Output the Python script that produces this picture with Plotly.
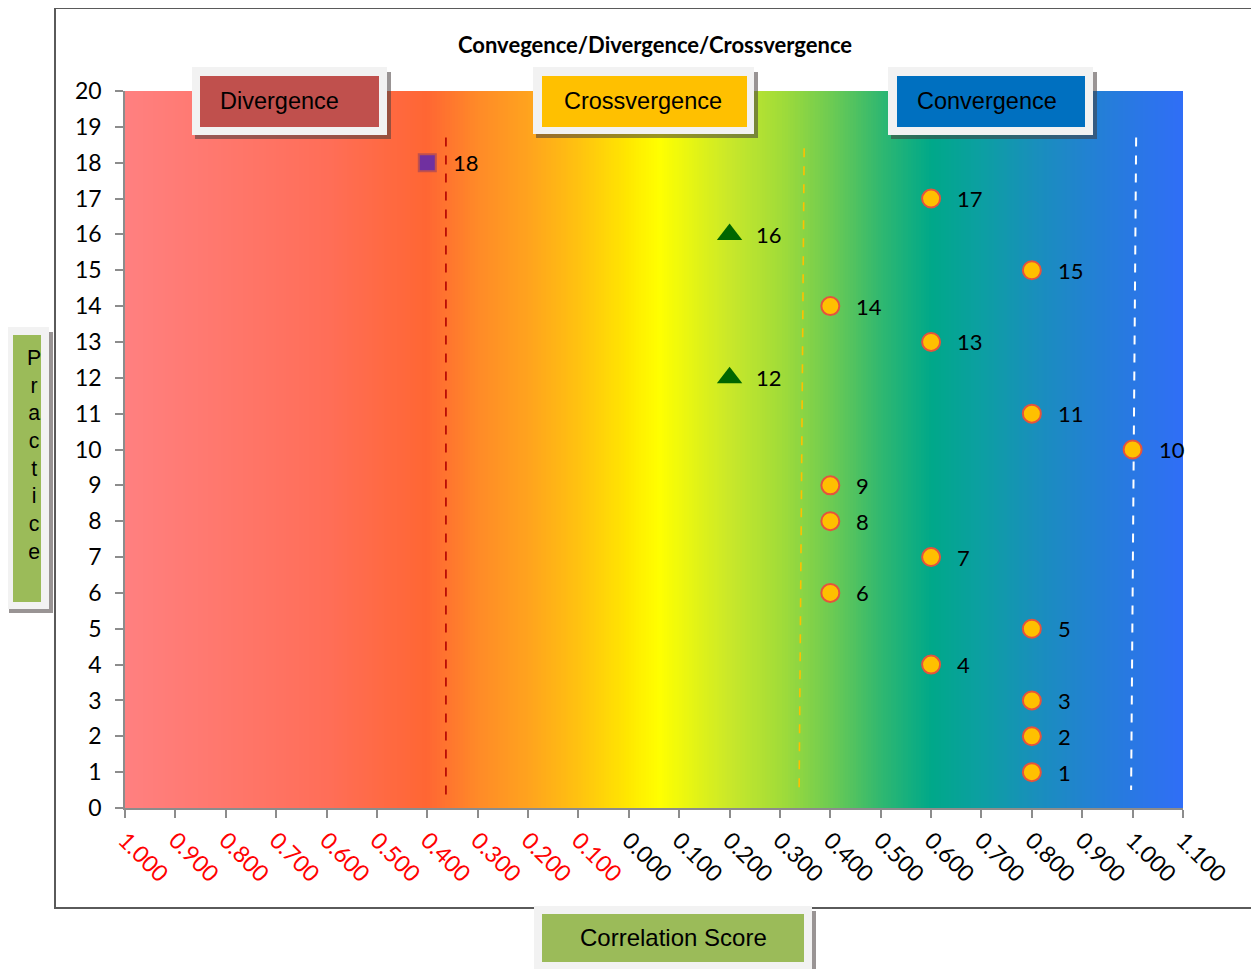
import numpy as np
import plotly.graph_objects as go

# ---------------- data ----------------
practice = [1, 2, 3, 4, 5, 6, 7, 8, 9, 10, 11, 12, 13, 14, 15, 16, 17, 18]
score = [0.8, 0.8, 0.8, 0.6, 0.8, 0.4, 0.6, 0.4, 0.4, 1.0, 0.8, 0.2, 0.6, 0.4, 0.8, 0.2, 0.6, -0.4]
group = ["conv", "conv", "conv", "conv", "conv", "conv", "conv", "conv", "conv", "conv",
         "conv", "cross", "conv", "conv", "conv", "cross", "conv", "div"]

x_tick_vals = [-1.0, -0.9, -0.8, -0.7, -0.6, -0.5, -0.4, -0.3, -0.2, -0.1, 0.0,
               0.1, 0.2, 0.3, 0.4, 0.5, 0.6, 0.7, 0.8, 0.9, 1.0, 1.1]
y_tick_vals = list(range(0, 21))

# reference (threshold) lines: x at top / bottom, y at top / bottom
div_line_x = [-0.363, -0.363]
div_line_y = [18.7, 0.35]
cross_line_x = [0.348, 0.338]
cross_line_y = [18.4, 0.42]
conv_line_x = [1.007, 0.997]
conv_line_y = [18.7, 0.5]

# background gradient stops (value on x axis, colour)
grad_stops = [(-1.0, "#FF8080"), (-0.6, "#FF6E58"), (-0.4, "#FF6633"), (-0.3, "#FF8A28"),
              (-0.2, "#FFA31E"), (-0.1, "#FFC210"), (0.0, "#FFE800"), (0.06, "#FFFF00"),
              (0.2, "#C9E82A"), (0.3, "#A2DC38"), (0.4, "#6ECB52"), (0.5, "#30B870"),
              (0.6, "#00A889"), (0.7, "#0C9FA2"), (0.8, "#1890BA"), (0.9, "#2183CF"),
              (1.0, "#2978E4"), (1.1, "#306EF6")]

XMIN, XMAX = -1.0, 1.1
OFF = 8  # page offset of the plot div (body margin)
W, H = 1259 - OFF, 969 - OFF
L, T = 125 - OFF, 91 - OFF
R = W - (1183 - OFF)
B = H - (808 - OFF)
PW, PH = W - L - R, H - T - B

fig = go.Figure()

# gradient background
edges = np.linspace(XMIN, XMAX, 421)
centers = (edges[:-1] + edges[1:]) / 2
cscale = [[(v - XMIN) / (XMAX - XMIN), c] for v, c in grad_stops]
fig.add_trace(go.Heatmap(x=edges, y=[0, 20], z=[centers], colorscale=cscale,
                         zmin=XMIN, zmax=XMAX, showscale=False, hoverinfo="skip"))

# threshold lines
fig.add_trace(go.Scatter(x=div_line_x, y=div_line_y, mode="lines",
                         line=dict(color="#B00000", width=1.6, dash="dash"), hoverinfo="skip"))
fig.add_trace(go.Scatter(x=cross_line_x, y=cross_line_y, mode="lines",
                         line=dict(color="#FFC000", width=1.6, dash="dash"), hoverinfo="skip"))
fig.add_trace(go.Scatter(x=conv_line_x, y=conv_line_y, mode="lines",
                         line=dict(color="white", width=2, dash="dash"), hoverinfo="skip"))

styles = {
    "conv": dict(symbol="circle", size=18, color="#FFC000", line=dict(color="#E5533D", width=2)),
    "cross": dict(symbol="triangle-up", size=22, color="#006600", line=dict(color="#006600", width=0)),
    "div": dict(symbol="square", size=17, color="#7030A0", line=dict(color="#C0504D", width=2)),
}
for g, st in styles.items():
    xs = [s for s, gg in zip(score, group) if gg == g]
    ys = [p for p, gg in zip(practice, group) if gg == g]
    fig.add_trace(go.Scatter(x=xs, y=ys, mode="markers", marker=st, cliponaxis=False))

num_font = dict(family="Lato, 'Open Sans', sans-serif", size=22, color="black")
tick_font = dict(family="Lato, 'Open Sans', sans-serif", size=23, color="black")
box_font = dict(family="Liberation Sans, Arial, sans-serif", size=23.5, color="black")

annotations = []
for p, s in zip(practice, score):
    annotations.append(dict(x=s, y=p, xref="x", yref="y", text=str(p), showarrow=False,
                            xanchor="left", yanchor="middle", xshift=24, font=num_font))


# helpers: page pixel -> paper coordinates
def px(x):
    return (x - OFF - L) / PW


def py(y):
    return (H - B - (y - OFF)) / PH


shapes = []
# outer chart border
shapes.append(dict(type="rect", xref="paper", yref="paper", x0=px(55), x1=px(1255),
                   y0=py(908), y1=py(8), line=dict(color="#5A5A5A", width=2),
                   fillcolor="rgba(0,0,0,0)", layer="above"))


def boxed_label(x0, x1, y0, y1, ix0, ix1, iy0, iy1, fill, text, font, xoff=0, yoff=0):
    shapes.append(dict(type="rect", xref="paper", yref="paper", x0=px(x0 + 3), x1=px(x1 + 4),
                       y0=py(y1 + 4), y1=py(y0 + 5), line=dict(width=0),
                       fillcolor="rgba(70,60,60,0.55)", layer="above"))
    shapes.append(dict(type="rect", xref="paper", yref="paper", x0=px(x0), x1=px(x1),
                       y0=py(y1), y1=py(y0), line=dict(width=0),
                       fillcolor="#F2F2F2", layer="above"))
    shapes.append(dict(type="rect", xref="paper", yref="paper", x0=px(ix0), x1=px(ix1),
                       y0=py(iy1), y1=py(iy0), line=dict(width=0),
                       fillcolor=fill, layer="above"))
    annotations.append(dict(x=px((ix0 + ix1) / 2 + xoff), y=py((iy0 + iy1) / 2 + yoff),
                            xref="paper", yref="paper", text=text, showarrow=False,
                            xanchor="center", yanchor="middle", font=font))


boxed_label(192, 387, 67, 135, 200, 379, 76, 127, "#C0504D", "Divergence", box_font, xoff=-10, yoff=-1)
boxed_label(533, 754, 67, 134, 542, 747, 76, 127, "#FFC000", "Crossvergence", box_font, xoff=-2, yoff=-1)
boxed_label(888, 1093, 67, 135, 897, 1085, 76, 127, "#0070C0", "Convergence", box_font, xoff=-4, yoff=-1)
boxed_label(6, 49, 327, 609, 13, 41, 335, 602, "#9BBB59",
            "<br>".join(list("Practice")), dict(box_font, size=21.3), xoff=7, yoff=-14)
boxed_label(534, 812, 906, 975, 542, 804, 914, 962, "#9BBB59", "Correlation Score",
            dict(box_font, size=24))

# title
annotations.append(dict(x=px(655), y=py(44), xref="paper", yref="paper",
                        text="<b>Convegence/Divergence/Crossvergence</b>", showarrow=False,
                        xanchor="center", yanchor="middle",
                        font=dict(family="Lato, 'Open Sans', sans-serif", size=22, color="black")))

x_tick_text = [("<span style='color:#FF0000'>%.3f</span>" % abs(v)) if v < -1e-9 else "%.3f" % v
               for v in x_tick_vals]

fig.update_layout(
    width=W, height=H, margin=dict(l=L, r=R, t=T, b=B),
    paper_bgcolor="white", plot_bgcolor="white", showlegend=False,
    shapes=shapes, annotations=annotations,
    xaxis=dict(range=[XMIN, XMAX], tickvals=x_tick_vals, ticktext=x_tick_text, tickangle=45,
               ticks="outside", ticklen=8, tickcolor="#8C8C8C", tickwidth=1.5,
               showline=True, linecolor="#8C8C8C", linewidth=1.5,
               showgrid=False, zeroline=False, tickfont=tick_font),
    yaxis=dict(range=[0, 20], tickvals=y_tick_vals, ticks="outside", ticklen=8,
               tickcolor="#8C8C8C", tickwidth=1.5, showline=True, linecolor="#8C8C8C",
               linewidth=1.5, showgrid=False, zeroline=False, tickfont=tick_font,
               ticklabelstandoff=9),
)

fig.write_html("out.html")
